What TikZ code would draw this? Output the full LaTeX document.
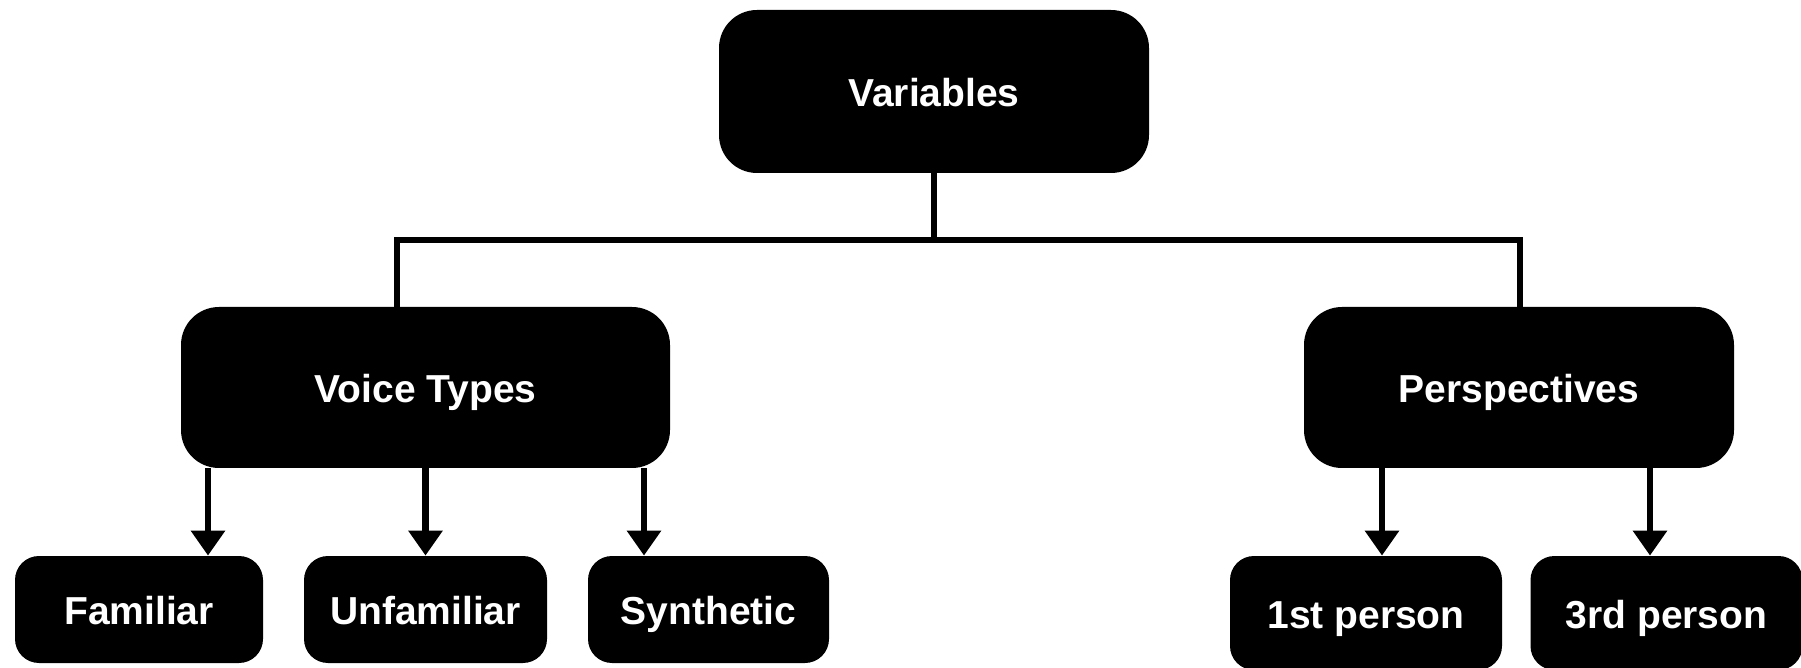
\documentclass[tikz,border=0pt]{standalone}
\usepackage{fontspec}
\setmainfont{Liberation Sans}
\usetikzlibrary{arrows.meta, calc, positioning}

\tikzset{
  box/.style={fill=black, text=white, rounded corners=12pt, inner sep=0pt, align=center,
    text height=15pt, text depth=0pt,
    font=\bfseries\fontsize{19.5}{23}\selectfont},
  bigbox/.style={box, rounded corners=19pt, minimum height=80.5pt},
  kidbox/.style={box, minimum height=53.5pt},
  conn/.style={line width=3.3pt},
  arr/.style={conn, -{Triangle[length=12.5pt, width=16.5pt]}}
}

\begin{document}
\begin{tikzpicture}[x=0.5pt, y=-0.5pt]
\useasboundingbox (0,0) rectangle (1801,668);

%//top level
\node[bigbox, minimum width=215pt, minimum height=81.5pt] (var) at (934,91.5) {Variables};
\node[bigbox, minimum width=244.5pt] (vt) at (425.5,387.5) {Voice Types};
\node[bigbox, minimum width=215pt] (persp) at (1519,387.5) {Perspectives};

%//children
\foreach \name/\x/\w/\val in {fam/139/124/Familiar, unf/425.5/121.5/Unfamiliar, syn/708.5/120.5/Synthetic}
\node[kidbox, minimum width=\w pt] (\name) at (\x,609.5) {\val};

\foreach \name/\x/\val in {first/1366/1st person, third/1666.5/3rd person}
\node[kidbox, minimum width=136pt, minimum height=57pt] (\name) at (\x,613) {\val};

%//bus from the root
\coordinate (busL) at (397,240);
\coordinate (busR) at (1520,240);
\draw[conn] (var.south) -- (var.south |- busL);
\draw[conn] (vt.north -| busL) -- (busL) -- (busR) -- (persp.north -| busR);

%//arrows down
\foreach \kid/\xa [count=\i] in {fam/208, unf/425.5, syn/644}
{
  \coordinate (v\i) at (\xa,0);
  \draw[arr] (vt.south -| v\i) -- (\kid.north -| v\i);
}

\foreach \kid/\xa [count=\i] in {first/1382, third/1650}
{
  \coordinate (p\i) at (\xa,0);
  \draw[arr] (persp.south -| p\i) -- (\kid.north -| p\i);
}
\end{tikzpicture}
\end{document}
